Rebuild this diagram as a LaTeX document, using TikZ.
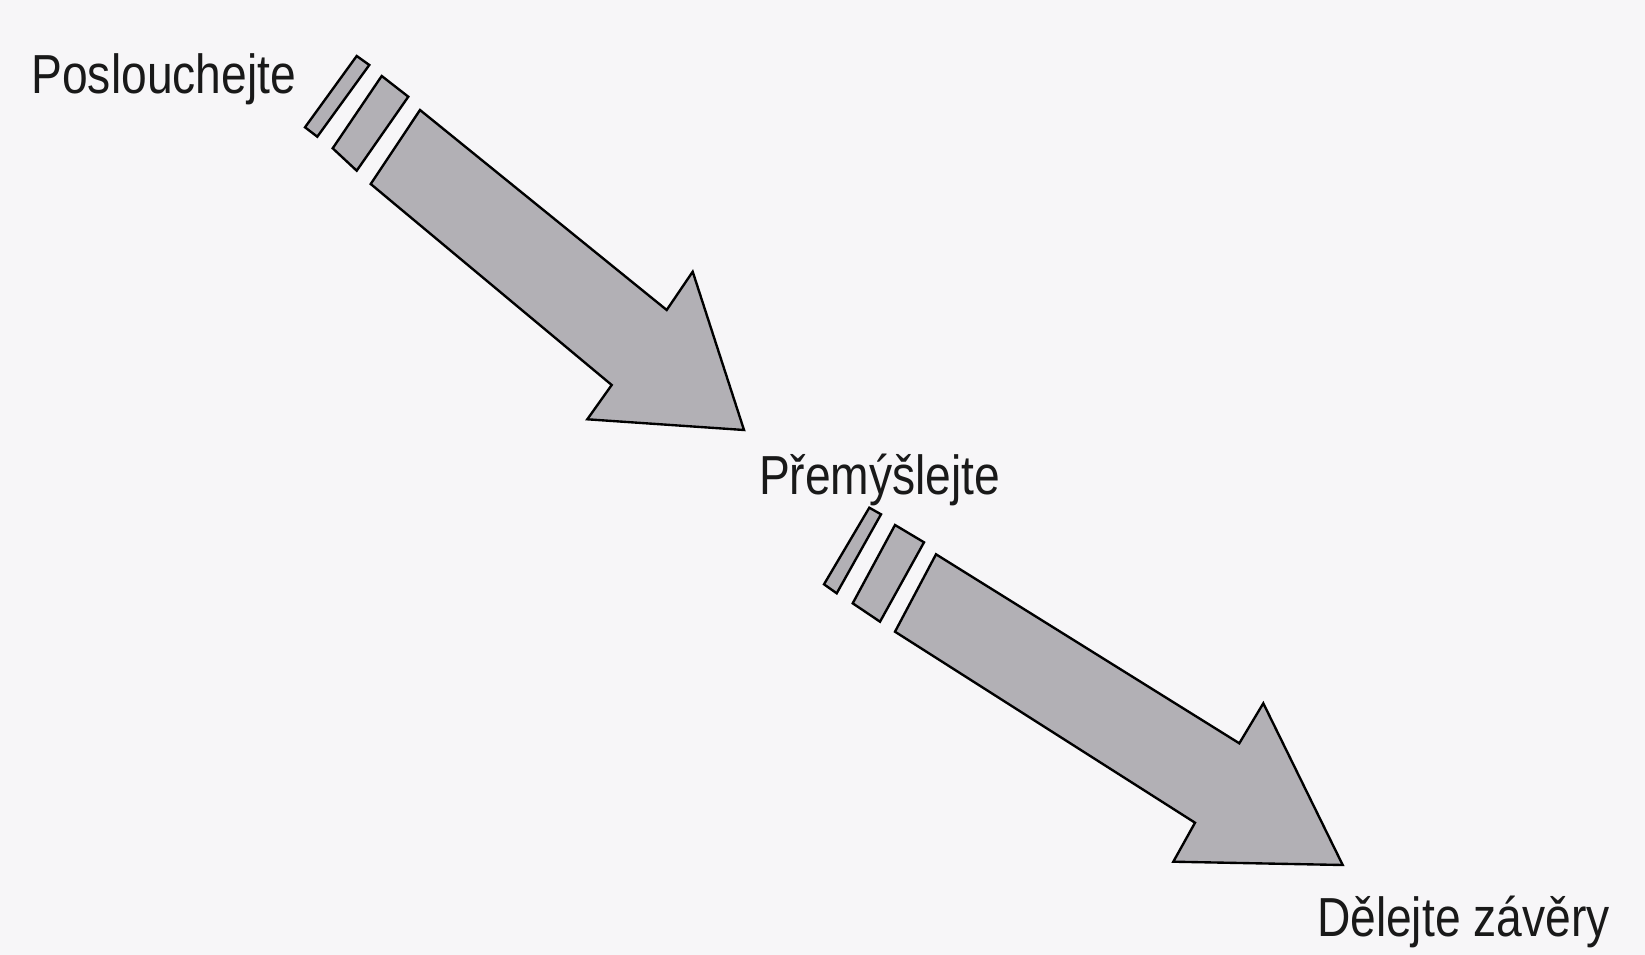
\documentclass[tikz,border=0pt]{standalone}
\usepackage{fontspec}
\newfontfamily\labfont[FakeStretch=0.84]{Liberation Sans}
\definecolor{paper}{RGB}{247,246,248}
\definecolor{arrowgrey}{RGB}{178,176,181}
\begin{document}
\begin{tikzpicture}[x=0.02cm,y=-0.02cm,
  shapebox/.style={draw=black, fill=arrowgrey, line width=1.35pt, line join=miter},
  steplabel/.style={anchor=base west, inner sep=0pt, outer sep=0pt, text=black!90,
    font=\labfont\fontsize{31.3}{36}\selectfont}]
\fill[paper] (0,0) rectangle (1645,955);
\useasboundingbox (0,0) rectangle (1645,955);

% arrow 1
\draw[shapebox] (356.7,56) -- (369.3,65) -- (317.3,136.7) -- (305,127.3) -- cycle;
\draw[shapebox] (381.7,76) -- (408.3,96.7) -- (356.7,170.7) -- (332.7,148.3) -- cycle;
\draw[shapebox] (420,110) -- (666.7,310) -- (692.7,271.7) -- (744,430)
  -- (587.3,419.3) -- (611.7,385) -- (370.7,184) -- cycle;

% arrow 2
\draw[shapebox] (869.3,507.7) -- (881,514.3) -- (836.7,593.3) -- (824,584.3) -- cycle;
\draw[shapebox] (895,525) -- (924,542.3) -- (880,621.7) -- (852.7,603.3) -- cycle;
\draw[shapebox] (936,554.3) -- (1239.3,743.3) -- (1263.3,703.3) -- (1342.7,865)
  -- (1173.3,861.7) -- (1195,822.7) -- (895,631.7) -- cycle;

% labels
\node[steplabel] (listen) at (31.5,93.3) {Poslouchejte};
\node[steplabel] (think) at (759,495) {Přemýšlejte};
\node[steplabel] (conclude) at (1317,936.7) {Dělejte závěry};
\end{tikzpicture}
\end{document}
